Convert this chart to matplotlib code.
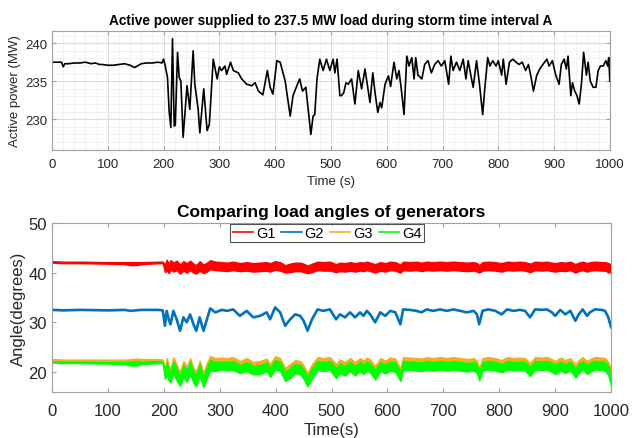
import numpy as np
import matplotlib.pyplot as plt
from matplotlib.lines import Line2D
from matplotlib.ticker import MultipleLocator

plt.rcParams['font.family'] = ['Liberation Sans', 'DejaVu Sans']

# active power delivered to the load (MW)
t_power = [0, 10, 17, 20, 23, 30, 40, 50, 60, 70,
           78, 85, 90, 100, 110, 120, 130, 135, 140, 148,
           155, 160, 170, 180, 190, 197, 200, 203, 207, 210,
           213, 216, 219, 221, 225, 228, 231, 235, 242, 247,
           253, 256, 262, 265, 272, 278, 282, 289, 296, 300,
           304, 310, 313, 320, 325, 334, 340, 349, 358, 364,
           370, 378, 386, 391, 396, 403, 409, 418, 427, 432,
           440, 444, 449, 455, 464, 468, 471, 475, 480, 486,
           492, 498, 504, 507, 511, 516, 519, 523, 527, 531,
           537, 543, 549, 555, 561, 565, 570, 575, 579, 584,
           588, 591, 597, 603, 607, 613, 618, 622, 627, 631,
           636, 640, 645, 649, 652, 656, 663, 668, 674, 680,
           686, 692, 698, 704, 711, 715, 719, 725, 731, 737,
           742, 746, 752, 755, 761, 766, 772, 776, 781, 785,
           790, 796, 800, 806, 809, 814, 820, 826, 832, 837,
           843, 849, 854, 858, 863, 869, 875, 880, 887, 891,
           897, 903, 909, 913, 918, 922, 925, 930, 933, 937,
           941, 945, 949, 953, 958, 961, 965, 970, 975, 979,
           983, 988, 993, 996, 998, 1000]
p_power = [237.5, 237.5, 237.5, 236.9, 237.3, 237.3, 237.4, 237.4, 237.5, 237.3,
           237.4, 237.2, 237.2, 237.1, 237.1, 237.2, 237.3, 237.2, 237.1, 236.8,
           237.1, 237.3, 237.4, 237.4, 237.5, 237.4, 237.9, 237.0, 235.5, 231.0,
           228.9, 240.6, 229.1, 229.2, 238.8, 235.5, 235.0, 227.6, 234.4, 231.3,
           239.0, 234.6, 231.3, 228.2, 234.0, 228.5, 229.3, 237.9, 235.3, 236.9,
           236.4, 237.0, 235.9, 237.5, 236.4, 236.1, 235.3, 234.6, 234.4, 234.8,
           233.7, 233.2, 236.4, 234.2, 233.3, 237.7, 237.5, 235.0, 230.4, 233.1,
           234.6, 235.3, 233.7, 234.2, 228.0, 230.4, 230.6, 235.3, 237.9, 236.4,
           237.9, 236.4, 237.9, 236.1, 237.9, 233.1, 233.1, 233.5, 234.8, 234.6,
           235.3, 232.0, 236.4, 234.0, 236.6, 234.6, 232.2, 236.1, 233.5, 230.9,
           232.2, 231.5, 234.6, 235.7, 234.3, 237.5, 235.3, 236.4, 233.4, 230.6,
           238.3, 237.0, 238.1, 235.3, 238.1, 235.8, 235.3, 237.2, 237.7, 236.1,
           237.2, 237.7, 237.0, 237.7, 234.6, 238.3, 236.4, 237.5, 236.4, 237.9,
           235.3, 237.7, 235.3, 234.2, 237.7, 234.8, 230.6, 234.2, 238.1, 237.0,
           237.7, 237.0, 237.7, 235.8, 237.9, 234.6, 237.5, 237.9, 237.5, 237.2,
           237.5, 236.4, 237.2, 235.8, 233.7, 235.8, 236.7, 237.2, 237.9, 237.0,
           237.7, 235.8, 234.6, 237.2, 237.9, 236.6, 238.3, 233.1, 234.8, 233.7,
           233.1, 232.0, 234.6, 238.8, 235.8, 237.5, 235.0, 234.2, 234.2, 236.4,
           237.0, 237.0, 237.7, 237.0, 238.1, 235.0]

# generator load angles (degrees); bands are the fast swing envelopes
t_ang = [0, 20, 50, 100, 130, 140, 150, 160, 190, 198,
         202, 205, 209, 212, 217, 223, 229, 235, 241, 247,
         253, 258, 264, 271, 277, 283, 292, 304, 313, 324,
         336, 348, 360, 372, 384, 390, 399, 408, 417, 426,
         435, 444, 450, 457, 465, 475, 485, 497, 508, 515,
         524, 533, 542, 551, 557, 563, 569, 578, 587, 596,
         605, 614, 623, 628, 640, 652, 661, 670, 682, 694,
         706, 718, 730, 742, 754, 760, 764, 770, 780, 793,
         804, 814, 825, 837, 846, 855, 864, 876, 885, 894,
         900, 909, 918, 927, 936, 942, 949, 957, 962, 971,
         983, 989, 995, 1000]
g1_hi = [42.3, 42.2, 42.2, 42.1, 42.1, 42.1, 42.1, 42.1, 42.2, 42.2,
         41.6, 42.6, 41.8, 42.5, 42.0, 42.4, 41.6, 42.3, 41.9, 42.4,
         41.8, 41.5, 42.3, 41.6, 42.0, 42.5, 42.2, 42.1, 42.0, 42.2,
         41.9, 42.1, 41.9, 42.0, 42.1, 41.9, 42.3, 42.1, 41.5, 41.8,
         42.0, 42.0, 41.8, 41.4, 41.8, 42.2, 42.1, 42.2, 41.7, 42.0,
         41.9, 42.1, 41.9, 42.1, 42.0, 42.2, 42.0, 41.7, 42.1, 41.9,
         42.2, 42.1, 41.6, 42.2, 42.1, 42.2, 42.0, 42.2, 42.1, 42.2,
         42.1, 42.2, 42.1, 42.0, 42.1, 41.9, 41.5, 42.1, 42.2, 42.1,
         41.9, 42.2, 42.1, 42.2, 42.1, 41.8, 42.2, 42.1, 42.2, 42.0,
         41.9, 42.1, 42.0, 42.2, 41.7, 42.0, 42.2, 41.9, 42.1, 42.2,
         42.1, 42.1, 41.9, 41.6]
g1_lo = [42.0, 41.9, 41.9, 41.8, 41.7, 41.5, 41.5, 41.7, 41.9, 41.9,
         40.1, 40.4, 39.9, 40.6, 40.2, 40.5, 39.8, 40.4, 40.0, 40.5,
         40.0, 39.8, 40.4, 39.9, 40.2, 40.7, 40.5, 40.4, 40.3, 40.5,
         40.3, 40.4, 40.2, 40.3, 40.4, 40.2, 40.6, 40.4, 40.0, 40.1,
         40.3, 40.3, 40.1, 39.9, 40.1, 40.5, 40.4, 40.4, 40.1, 40.3,
         40.2, 40.4, 40.2, 40.4, 40.3, 40.5, 40.3, 40.0, 40.4, 40.2,
         40.5, 40.4, 40.0, 40.5, 40.4, 40.5, 40.3, 40.5, 40.4, 40.5,
         40.4, 40.5, 40.4, 40.3, 40.4, 40.2, 40.0, 40.4, 40.5, 40.4,
         40.2, 40.5, 40.4, 40.5, 40.4, 40.1, 40.5, 40.4, 40.5, 40.3,
         40.2, 40.4, 40.3, 40.5, 40.0, 40.3, 40.5, 40.2, 40.4, 40.5,
         40.4, 40.4, 40.1, 39.9]
g2 = [32.5, 32.4, 32.5, 32.4, 32.5, 32.3, 32.4, 32.5, 32.5, 32.4,
      29.3, 32.3, 30.5, 29.6, 32.3, 30.6, 28.3, 31.0, 30.0, 31.6,
      29.6, 28.3, 31.0, 28.3, 30.6, 32.8, 32.0, 32.5, 32.3, 32.6,
      31.3, 32.3, 31.0, 31.3, 32.0, 30.6, 33.0, 32.0, 29.3, 30.6,
      31.6, 31.3, 30.3, 28.3, 30.6, 32.6, 32.3, 32.6, 30.6, 31.6,
      31.0, 32.0, 31.0, 32.0, 31.3, 32.3, 31.6, 30.0, 32.0, 31.3,
      32.3, 32.0, 29.6, 32.6, 32.5, 32.3, 32.0, 32.6, 32.3, 32.6,
      32.3, 32.6, 32.3, 32.0, 32.3, 31.6, 29.6, 32.3, 32.6, 32.3,
      31.6, 32.6, 32.3, 32.5, 32.3, 31.0, 32.6, 32.5, 32.6, 32.0,
      31.3, 32.5, 31.6, 32.3, 30.3, 31.6, 32.6, 31.3, 32.0, 32.6,
      32.5, 32.3, 31.0, 29.0]
g3_hi = [22.6, 22.5, 22.5, 22.5, 22.5, 22.6, 22.7, 22.6, 22.6, 22.5,
         20.5, 22.8, 21.2, 20.8, 23.0, 21.5, 20.0, 22.2, 21.0, 22.8,
         20.8, 20.2, 22.3, 19.8, 21.8, 23.2, 22.8, 22.9, 22.8, 23.0,
         22.2, 22.8, 22.0, 22.2, 22.7, 21.6, 23.2, 22.8, 20.8, 21.6,
         22.4, 22.2, 21.3, 19.8, 21.6, 23.0, 22.8, 23.0, 21.6, 22.5,
         22.0, 22.8, 22.0, 22.8, 22.3, 22.9, 22.5, 21.2, 22.8, 22.3,
         22.9, 22.7, 20.8, 23.0, 22.9, 22.8, 22.7, 23.0, 22.8, 23.0,
         22.8, 23.0, 22.8, 22.6, 22.8, 22.3, 20.8, 22.8, 23.0, 22.8,
         22.4, 23.0, 22.8, 22.9, 22.8, 21.8, 23.0, 22.9, 23.0, 22.6,
         22.2, 22.9, 22.4, 22.8, 21.5, 22.4, 23.0, 22.2, 22.6, 23.0,
         22.9, 22.8, 22.0, 20.5]
g4_hi = [22.2, 22.1, 22.1, 22.0, 22.0, 22.1, 22.2, 22.1, 22.2, 22.1,
         19.8, 22.0, 20.4, 20.0, 22.2, 20.6, 19.2, 21.4, 20.2, 22.0,
         20.0, 19.3, 21.5, 19.0, 21.0, 22.4, 22.0, 22.1, 22.0, 22.2,
         21.4, 22.0, 21.2, 21.4, 21.9, 20.8, 22.4, 22.0, 20.0, 20.8,
         21.6, 21.4, 20.5, 19.0, 20.8, 22.2, 22.0, 22.2, 20.8, 21.7,
         21.2, 22.0, 21.2, 22.0, 21.5, 22.1, 21.7, 20.4, 22.0, 21.5,
         22.1, 21.9, 20.0, 22.2, 22.1, 22.0, 21.9, 22.2, 22.0, 22.2,
         22.0, 22.2, 22.0, 21.8, 22.0, 21.5, 20.0, 22.0, 22.2, 22.0,
         21.6, 22.2, 22.0, 22.1, 22.0, 21.0, 22.2, 22.1, 22.2, 21.8,
         21.4, 22.1, 21.6, 22.0, 20.7, 21.6, 22.2, 21.4, 21.8, 22.2,
         22.1, 22.0, 21.2, 19.5]
g4_lo = [21.9, 21.8, 21.8, 21.7, 21.6, 21.3, 21.3, 21.6, 21.8, 21.8,
         18.6, 19.6, 18.2, 18.0, 19.8, 18.3, 17.2, 19.0, 18.0, 19.6,
         17.8, 17.2, 19.2, 17.0, 18.8, 20.3, 20.2, 20.5, 20.3, 20.4,
         19.8, 20.2, 19.5, 19.6, 20.2, 19.0, 20.5, 20.2, 18.2, 18.8,
         19.8, 19.5, 18.6, 17.1, 18.8, 20.4, 20.2, 20.4, 18.8, 19.8,
         19.3, 20.2, 19.3, 20.2, 19.6, 20.3, 19.9, 18.5, 20.2, 19.7,
         20.3, 20.0, 18.2, 20.4, 20.4, 20.3, 20.2, 20.5, 20.3, 20.5,
         20.3, 20.5, 20.3, 20.1, 20.3, 19.8, 18.3, 20.3, 20.5, 20.3,
         19.9, 20.5, 20.3, 20.4, 20.3, 19.2, 20.5, 20.4, 20.5, 20.0,
         19.6, 20.3, 19.8, 20.3, 18.9, 19.8, 20.5, 19.6, 20.0, 20.5,
         20.4, 20.2, 19.4, 17.0]

gen_names = ['G1', 'G2', 'G3', 'G4']
gen_colors = ['#ff0000', '#0072bd', '#edb120', '#00ff00']

fig = plt.figure(figsize=(6.39, 4.39), dpi=100)
text_col = '#262626'
spine_col = '#a0a0a0'

# --- active power ---
ax1 = fig.add_axes([0.0814, 0.657, 0.873, 0.270])
ax1.plot(t_power, p_power, color='black', lw=1.2)
ax1.set_xlim(0, 1000)
ax1.set_ylim(226, 241.6)
ax1.set_yticks([230, 235, 240])
ax1.set_xticks(np.arange(0, 1001, 100))
ax1.xaxis.set_minor_locator(MultipleLocator(20))
ax1.yaxis.set_minor_locator(MultipleLocator(1))
ax1.grid(which='major', color='#dcdcdc', lw=0.8)
ax1.grid(which='minor', color='#f0f0f0', lw=0.6)
ax1.set_axisbelow(True)
ax1.tick_params(which='both', direction='in', top=True, right=True,
                labelsize=9.5, colors=spine_col, labelcolor=text_col)
ax1.tick_params(which='minor', length=0)
ax1.tick_params(which='major', length=3)
ax1.tick_params(axis='x', pad=6)
for s in ax1.spines.values():
    s.set_color(spine_col)
ax1.set_title('Active power supplied to 237.5 MW load during storm time interval A',
              fontsize=9.8, fontweight='bold', pad=5)
ax1.set_xlabel('Time (s)', fontsize=9.5, color=text_col, labelpad=4)
ax1.set_ylabel('Active power (MW)', fontsize=9.5, color=text_col, labelpad=3)

# --- load angles ---
ax2 = fig.add_axes([0.0814, 0.105, 0.875, 0.385])
band_lo = [g1_lo, None, g4_hi, g4_lo]
band_hi = [g1_hi, None, g3_hi, g4_hi]
for i in [0, 2, 3]:
    ax2.fill_between(t_ang, band_lo[i], band_hi[i], color=gen_colors[i],
                     lw=1.0, edgecolor=gen_colors[i])
ax2.plot(t_ang, g2, color=gen_colors[1], lw=1.9)
ax2.set_xlim(0, 1000)
ax2.set_ylim(16, 50)
ax2.set_xticks(np.arange(0, 1001, 100))
ax2.set_yticks([20, 30, 40, 50])
ax2.tick_params(direction='in', top=True, right=True, length=3,
                labelsize=12, colors=spine_col, labelcolor=text_col)
ax2.tick_params(axis='x', pad=8)
for s in ax2.spines.values():
    s.set_color(spine_col)
ax2.set_title('Comparing load angles of generators', fontsize=12.5,
              fontweight='bold', pad=5)
ax2.set_xlabel('Time(s)', fontsize=12, color=text_col, labelpad=3)
ax2.set_ylabel('Angle(degrees)', fontsize=12, color=text_col, labelpad=2)

handles = [Line2D([], [], color=c, lw=1.2) for c in gen_colors]
leg = ax2.legend(handles, gen_names, loc='upper center', bbox_to_anchor=(0.492, 0.995),
                 ncol=4, fontsize=10.5, frameon=True, fancybox=False,
                 handlelength=1.4, handletextpad=0.2, columnspacing=0.4,
                 borderpad=0.15, borderaxespad=0)
leg.get_frame().set_edgecolor('#262626')
leg.get_frame().set_linewidth(0.8)

fig.savefig('out.png', dpi=100)
